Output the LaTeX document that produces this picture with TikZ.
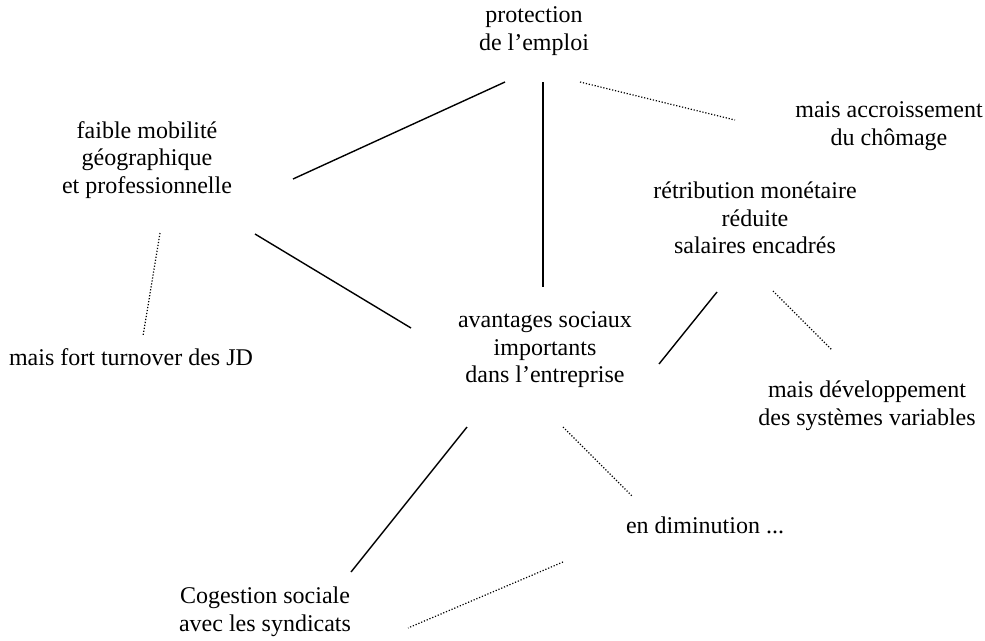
\documentclass[tikz,border=0pt]{standalone}
\usepackage{fontspec}
\setmainfont{Liberation Serif}
\usetikzlibrary{positioning}

\tikzset{
  txt/.style={align=center,inner sep=0pt,font=\fontsize{24}{27.6}\selectfont},
  plein/.style={line width=1.4pt},
  pointille/.style={line width=1.2pt,dash pattern=on 1.2pt off 1.8pt}
}

\begin{document}
\begin{tikzpicture}[x=1pt,y=-1pt]
  \useasboundingbox (0,0) rectangle (985,640);

  % les blocs de texte
  \node[txt] (prot)     at (534,31)  {protection\\de l'emploi};
  \node[txt] (accr)     at (889,126) {mais accroissement\\du chômage};
  \node[txt] (faible)   at (147,160) {faible mobilité\\géographique\\et professionnelle};
  \node[txt] (retrib)   at (755,218) {rétribution monétaire\\réduite\\salaires encadrés};
  \node[txt] (avant)    at (545,350) {avantages sociaux\\importants\\dans l'entreprise};
  \node[txt] (turnover) at (131,357) {mais fort turnover des JD};
  \node[txt] (devel)    at (867,406) {mais développement\\des systèmes variables};
  \node[txt] (dimin)    at (705,525) {en diminution ...};
  \node[txt] (cogest)   at (265,612) {Cogestion sociale\\avec les syndicats};

  % liens pleins
  \draw[plein] ([shift={(-29,51)}]prot.center) -- ([shift={(146,19)}]faible.center);
  \draw[plein] ([shift={(9,51)}]prot.center) -- ([shift={(-2,-63)}]avant.center);
  \draw[plein] ([shift={(108,74)}]faible.center) -- ([shift={(-134,-22)}]avant.center);
  \draw[plein] ([shift={(-38,74)}]retrib.center) -- ([shift={(114,14)}]avant.center);
  \draw[plein] ([shift={(-78,77)}]avant.center) -- ([shift={(86,-40)}]cogest.center);

  % liens en pointillé
  \draw[pointille] ([shift={(46,51)}]prot.center) -- ([shift={(-154,-6)}]accr.center);
  \draw[pointille] ([shift={(13,73)}]faible.center) -- ([shift={(12,-21)}]turnover.center);
  \draw[pointille] ([shift={(18,73)}]retrib.center) -- ([shift={(-35,-56)}]devel.center);
  \draw[pointille] ([shift={(18,77)}]avant.center) -- ([shift={(-72,-28)}]dimin.center);
  \draw[pointille] ([shift={(-142,37)}]dimin.center) -- ([shift={(143,16)}]cogest.center);
\end{tikzpicture}
\end{document}
